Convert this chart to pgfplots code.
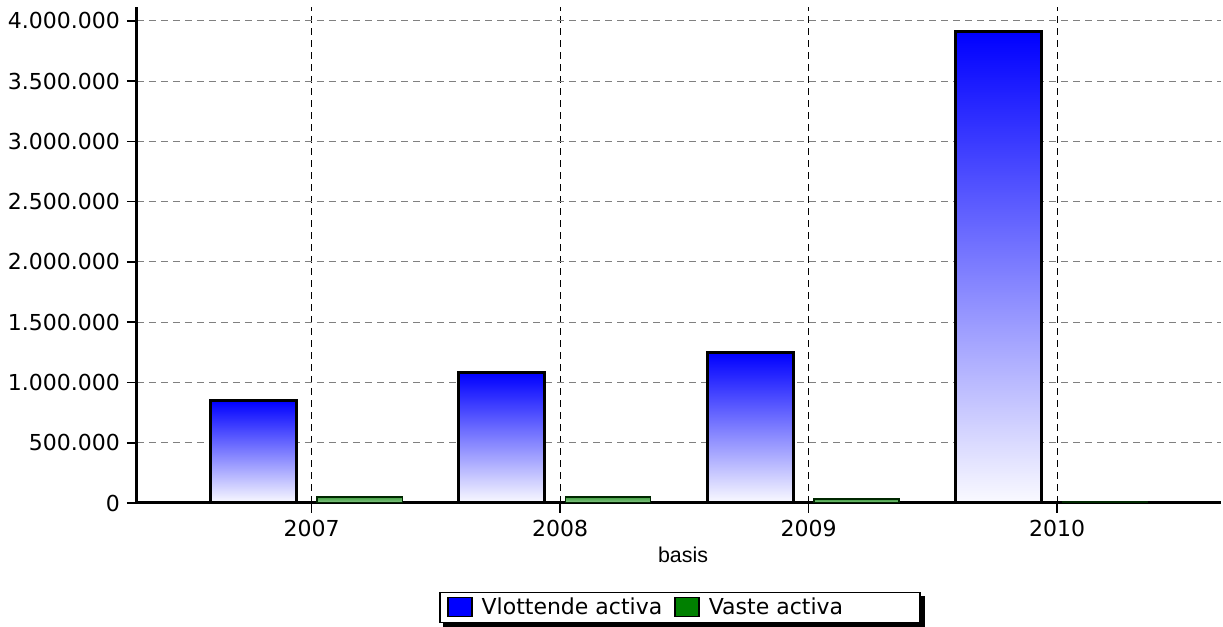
\documentclass[border=0pt]{standalone}
\usepackage{pgfplots}
\pgfplotsset{compat=1.18}
\usepackage{fontspec}
\setmainfont{DejaVu Sans}
\newfontfamily\arialfont{Liberation Sans}
\usetikzlibrary{backgrounds}

\definecolor{vlot}{RGB}{0,0,255}
\definecolor{vast}{RGB}{0,128,0}

% one bar per plot, so that each bar gets its own gradient
\pgfplotsset{
  vlotbar/.style={ybar, forget plot, bar width=0.346, bar shift=-0.235,
    draw=black, line width=1.5pt, top color=vlot, bottom color=vlot!2},
  vastbar/.style={ybar, forget plot, bar width=0.343, bar shift=0.193,
    draw=black!70!vast, line width=0.7pt, top color=vast!75, bottom color=vast!45},
}

\begin{document}
\begin{tikzpicture}
\useasboundingbox (0,0) rectangle (611.5pt,313.5pt);
\begin{axis}[
  at={(68.5pt,62pt)}, anchor=south west,
  scale only axis, width=542pt, height=248pt,
  xmin=-0.703, xmax=3.66, ymin=0, ymax=4114000,
  xtick={0,1,2,3}, xticklabels={2007,2008,2009,2010},
  ytick={0,500000,1000000,1500000,2000000,2500000,3000000,3500000,4000000},
  scaled y ticks=false,
  yticklabel style={/pgf/number format/.cd, fixed, 1000 sep={.}, assume math mode=true},
  tick label style={font=\fontsize{11}{13}\selectfont, black},
  tick align=outside, major tick length=5pt,
  tick style={black, line width=0.8pt},
  axis x line*=bottom, axis y line*=left,
  axis line style={line width=1.5pt, -},
  xmajorgrids, ymajorgrids,
  x grid style={black, dash pattern=on 3.5pt off 2.5pt, line width=0.5pt},
  y grid style={gray, dash pattern=on 3.5pt off 2.5pt, line width=0.5pt},
  xlabel={\arialfont basis},
  xlabel style={font=\fontsize{10.7}{12}\selectfont, at={(0.5037,0)}, anchor=center, yshift=-26pt},
  legend style={name=leg, at={(0.501,-0.2107)}, anchor=center, draw=black, fill=white,
    line width=0.8pt, font=\fontsize{11}{13}\selectfont, legend columns=-1,
    inner xsep=3.5pt, inner ysep=0.5pt},
  legend image code/.code={\draw[#1, line width=0.8pt] (0pt,-4.5pt) rectangle (12pt,5pt);},
  /tikz/every odd column/.append style={column sep=2.5pt},
  /tikz/every even column/.append style={column sep=4pt},
]
\addlegendimage{fill=vlot, draw=black}
\addlegendentry{Vlottende activa}
\addlegendimage{fill=vast, draw=black}
\addlegendentry{Vaste activa\rule{33pt}{0pt}}

\addplot[vlotbar] coordinates {(0,849000)};
\addplot[vlotbar] coordinates {(1,1079000)};
\addplot[vlotbar] coordinates {(2,1247000)};
\addplot[vlotbar] coordinates {(3,3909000)};

\addplot[vastbar] coordinates {(0,50000)};
\addplot[vastbar] coordinates {(1,50000)};
\addplot[vastbar] coordinates {(2,33000)};
\addplot[vastbar] coordinates {(3,9000)};
\end{axis}
\begin{scope}[on background layer]
  \fill[black] ([shift={(2pt,-2pt)}]leg.south west) rectangle ([shift={(2pt,-2pt)}]leg.north east);
\end{scope}
\end{tikzpicture}
\end{document}
